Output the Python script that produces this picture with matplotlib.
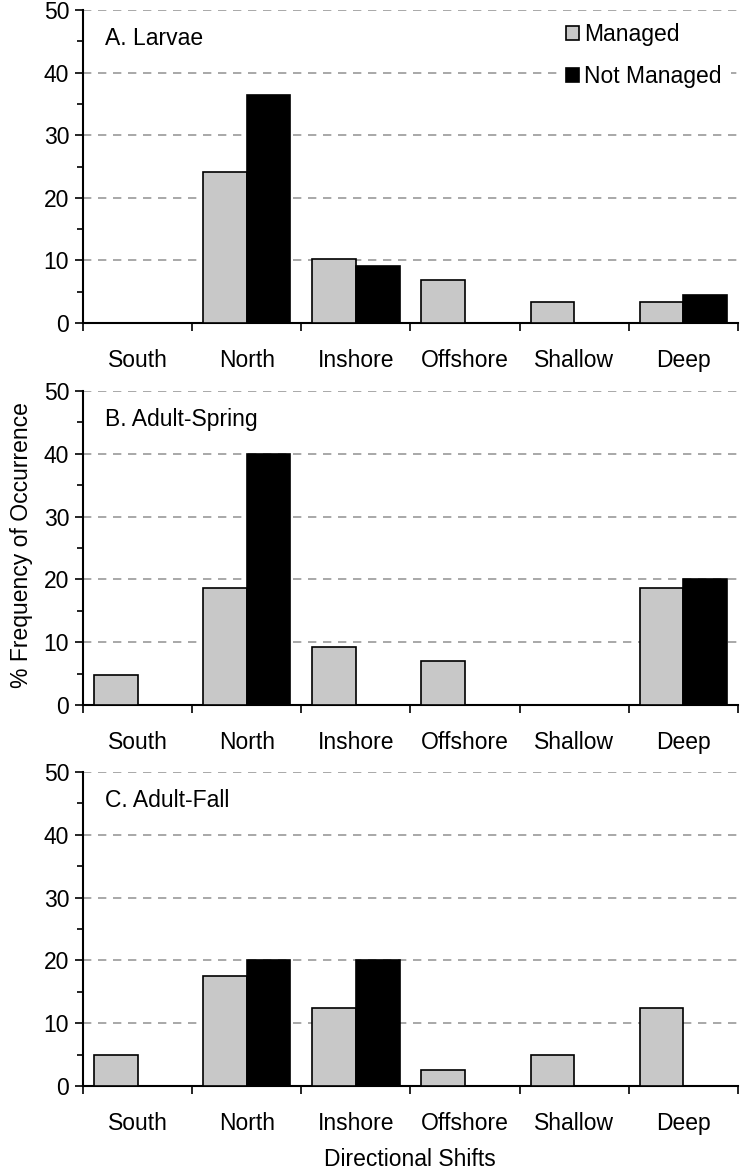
import matplotlib
matplotlib.use("Agg")
import matplotlib.pyplot as plt
import numpy as np

plt.rcParams["font.family"] = ["Liberation Sans", "DejaVu Sans"]

# Categories and series values (% frequency of occurrence)
categories = ["South", "North", "Inshore", "Offshore", "Shallow", "Deep"]
panel_titles = ["A. Larvae", "B. Adult-Spring", "C. Adult-Fall"]

larvae_managed = [0, 24.1, 10.3, 6.9, 3.4, 3.4]
larvae_not_managed = [0, 36.4, 9.1, 0, 0, 4.5]
spring_managed = [4.7, 18.6, 9.3, 7.0, 0, 18.6]
spring_not_managed = [0, 40.0, 0, 0, 0, 20.0]
fall_managed = [5.0, 17.5, 12.5, 2.5, 5.0, 12.5]
fall_not_managed = [0, 20.0, 20.0, 0, 0, 0]

panels = [
    (larvae_managed, larvae_not_managed),
    (spring_managed, spring_not_managed),
    (fall_managed, fall_not_managed),
]

W, H = 742, 1174
fig = plt.figure(figsize=(W / 100, H / 100), dpi=100)

# axes boxes in pixels: (left, top, right, bottom)
boxes = [(83, 10, 738, 323), (83, 391, 738, 705), (83, 772, 738, 1086)]

x = np.arange(len(categories))
width = 0.4
fs = 16.5

for i, ((managed, not_managed), title, box) in enumerate(zip(panels, panel_titles, boxes)):
    l, t, r, b = box
    ax = fig.add_axes([l / W, 1 - b / H, (r - l) / W, (b - t) / H])
    ax.set_axisbelow(True)
    ax.bar(x - width / 2, managed, width, color="#c8c8c8", edgecolor="black",
           linewidth=1.2, label="Managed", zorder=3)
    ax.bar(x + width / 2, not_managed, width, color="black", edgecolor="black",
           linewidth=1.2, label="Not Managed", zorder=3)

    ax.set_xlim(-0.5, len(categories) - 0.5)
    ax.set_ylim(0, 50)
    ax.set_yticks(np.arange(0, 51, 10))
    ax.set_yticks(np.arange(5, 50, 10), minor=True)
    ax.yaxis.grid(True, which="major", linestyle=(0, (5, 4)), color="#999999", linewidth=1.2)

    # category boundaries as ticks, labels centered between
    ax.set_xticks(np.arange(-0.5, len(categories), 1.0))
    ax.set_xticklabels([])
    ax.set_xticks(x, minor=True)
    ax.set_xticklabels(categories, minor=True, fontsize=fs)
    ax.tick_params(axis="x", which="major", length=6, width=1.2, direction="out")
    ax.tick_params(axis="x", which="minor", length=0, pad=19)
    ax.tick_params(axis="y", which="major", length=6, width=1.2, labelsize=fs, pad=4)
    ax.tick_params(axis="y", which="minor", length=4, width=1.2)

    for s in ["top", "right"]:
        ax.spines[s].set_visible(False)
    for s in ["left", "bottom"]:
        ax.spines[s].set_linewidth(1.5)

    ax.text(0.034, 0.91, title, transform=ax.transAxes, fontsize=fs,
            ha="left", va="center")

    if i == 0:
        leg = ax.legend(loc="upper right", bbox_to_anchor=(1.0, 1.01), fontsize=fs,
                        frameon=True, framealpha=1.0, edgecolor="white", fancybox=False,
                        handlelength=0.55, handleheight=0.55, handletextpad=0.25,
                        labelspacing=0.85, borderpad=0.4, borderaxespad=0.3)
        leg.get_frame().set_linewidth(0)

fig.text(22 / W, 1 - 545 / H, "% Frequency of Occurrence", rotation=90,
         ha="center", va="center", fontsize=fs)
fig.text(410 / W, 1 - 1160 / H, "Directional Shifts", ha="center", va="center",
         fontsize=fs)

fig.savefig("out.png", dpi=100)
